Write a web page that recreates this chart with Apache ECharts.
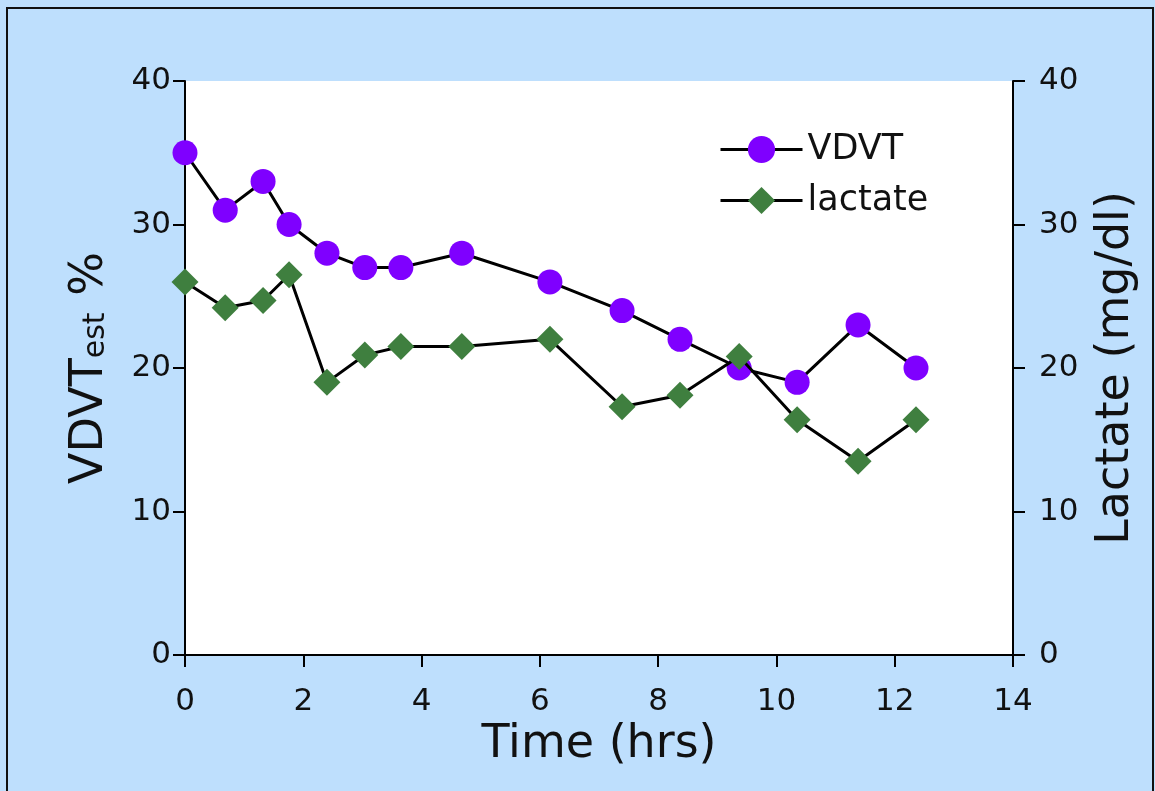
<!DOCTYPE html>
<html>
	<head>
		<meta charset="utf-8">
		<title></title>
		<script type="text/javascript" src="https://cdn.jsdelivr.net/npm/echarts@6/dist/echarts.min.js"></script>
		<style>
			html, body { margin: 0; padding: 0; background: #bedffd; }
		</style>
	</head>
	<body>
		<div id="main" style="width: 1155px;height:791px;"></div>
	</body>
	<script type="text/javascript">
	        // data
	        var timeHrs = [0, 0.68, 1.32, 1.76, 2.4, 3.04, 3.65, 4.68, 6.17, 7.39, 8.37, 9.37, 10.35, 11.38, 12.36];
	        var vdvt = [35, 31, 33, 30, 28, 27, 27, 28, 26, 24, 22, 20, 19, 23, 20];
	        var lactate = [26, 24.2, 24.7, 26.5, 19, 20.9, 21.5, 21.5, 22, 17.3, 18.1, 20.8, 16.4, 13.5, 16.4];
	        var xTicks = [0, 2, 4, 6, 8, 10, 12, 14];

	        function pairs(xs, ys) {
	            return xs.map(function (x, i) { return [x, ys[i]]; });
	        }

	        var myChart = echarts.init(document.getElementById('main'));
	        var font = 'DejaVu Sans';
	        var tickStyle = { show: true, length: 12, inside: false, lineStyle: { color: '#000', width: 2 } };
	        var lineStyle = { color: '#000', width: 2 };

	        myChart.setOption({
	            backgroundColor: '#bedffd',
	            animation: false,
	            textStyle: { fontFamily: font, color: '#111' },
	            graphic: [{
	                type: 'rect',
	                shape: { x: 7, y: 8, width: 1146, height: 800 },
	                style: { fill: 'none', stroke: '#111', lineWidth: 2 },
	                z: -1
	            }],
	            grid: {
	                left: 185, right: 142, top: 81, bottom: 136,
	                show: true, backgroundColor: '#fff', borderWidth: 0
	            },
	            legend: {
	                orient: 'vertical',
	                left: 714, top: 127,
	                itemWidth: 82, itemHeight: 34, itemGap: 16,
	                lineStyle: { width: 3 },
	                textStyle: { fontSize: 35, fontFamily: font, color: '#111' },
	                data: ['VDVT', 'lactate']
	            },
	            xAxis: {
	                type: 'value',
	                min: 0, max: 14, interval: 2,
	                name: 'Time (hrs)',
	                nameLocation: 'middle',
	                nameGap: 59,
	                nameTextStyle: { fontSize: 46, fontFamily: font, color: '#111' },
	                axisLine: { show: true, onZero: false, lineStyle: lineStyle },
	                axisTick: tickStyle,
	                axisLabel: {
	                    fontSize: 31, margin: 31, color: '#111',
	                    formatter: function (v) { return xTicks.indexOf(v) >= 0 ? String(v) : ''; }
	                },
	                splitLine: { show: false }
	            },
	            yAxis: [{
	                type: 'value',
	                min: 0, max: 40, interval: 10,
	                position: 'left',
	                name: '{a|VDVT}{b|est}{a| %}',
	                nameLocation: 'middle',
	                nameGap: 72,
	                nameRotate: 90,
	                nameTextStyle: {
	                    rich: {
	                        a: { fontSize: 46, lineHeight: 46, fontFamily: font, color: '#111', verticalAlign: 'top' },
	                        b: { fontSize: 30, lineHeight: 46, fontFamily: font, color: '#111', verticalAlign: 'top', padding: [14, 2, 0, 0] }
	                    }
	                },
	                axisLine: { show: true, lineStyle: lineStyle },
	                axisTick: tickStyle,
	                axisLabel: { fontSize: 31, margin: 14, color: '#111' },
	                splitLine: { show: false }
	            }, {
	                type: 'value',
	                min: 0, max: 40, interval: 10,
	                position: 'right',
	                name: 'Lactate (mg/dl)',
	                nameLocation: 'middle',
	                nameGap: 80,
	                nameRotate: 90,
	                nameTextStyle: { fontSize: 46, fontFamily: font, color: '#111' },
	                axisLine: { show: true, lineStyle: lineStyle },
	                axisTick: tickStyle,
	                axisLabel: { fontSize: 31, margin: 26, color: '#111' },
	                splitLine: { show: false }
	            }],
	            series: [{
	                name: 'VDVT',
	                type: 'line',
	                yAxisIndex: 0,
	                data: pairs(timeHrs, vdvt),
	                symbol: 'circle',
	                symbolSize: 25,
	                itemStyle: { color: '#7f00ff' },
	                lineStyle: { color: '#000', width: 3 },
	                z: 3
	            }, {
	                name: 'lactate',
	                type: 'line',
	                yAxisIndex: 1,
	                data: pairs(timeHrs, lactate),
	                symbol: 'diamond',
	                symbolSize: [27, 27],
	                itemStyle: { color: '#3f7f3f' },
	                lineStyle: { color: '#000', width: 3 },
	                z: 4
	            }]
	        });
	    </script>
</html>
